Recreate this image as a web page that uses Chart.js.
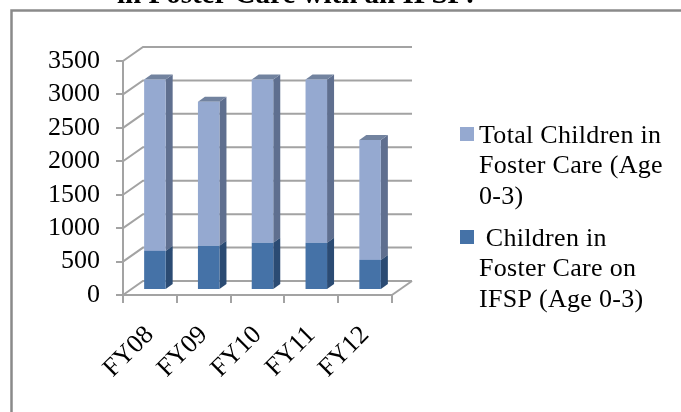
<!DOCTYPE html>
<html><head><meta charset="utf-8">
<style>html,body{margin:0;padding:0;background:#fff;overflow:hidden}#w{width:681px;height:412px;position:relative}</style>
<script src="https://cdn.jsdelivr.net/npm/chart.js@4"></script></head>
<body><div id="w"><canvas id="c" width="681" height="412"></canvas></div>
<script>
const categories=['FY08','FY09','FY10','FY11','FY12'];
const ifspValues=[585,660,705,705,450];
const totalRemainder=[2565,2155,2445,2445,1795];
const yTicks=[0,500,1000,1500,2000,2500,3000,3500];
const legendTotal=['Total Children in','Foster Care (Age','0-3)'];
const legendIfsp=[' Children in','Foster Care on','IFSP (Age 0-3)'];
const titleText='in Foster Care with an IFSP:';
const SERIF='"Liberation Serif"';
const GRID='#a3a3a3';
const D={x:20,y:-14}, BAR={x:5,y:-5}, SIDE={x:7,y:-5};
const sideCols=['#2b4b73','#5f6f8f'], topCols=['#3a6090','#72839f'];
const frame={id:'frame',beforeDraw(ch){const c=ch.ctx;c.save();
 c.strokeStyle='#8a8a8a';c.lineWidth=2.5;c.beginPath();c.moveTo(681,10.5);c.lineTo(11.5,10.5);c.lineTo(11.5,412);c.stroke();
 c.fillStyle='#000';c.font='bold 29px '+SERIF;c.textAlign='left';c.textBaseline='alphabetic';c.fillText(titleText,117,3);
 c.restore();}};
const walls={id:'walls',beforeDatasetsDraw(ch){const c=ch.ctx,y=ch.scales.y,a=ch.chartArea;c.save();
 c.strokeStyle=GRID;c.lineWidth=2;
 yTicks.forEach(v=>{const p=y.getPixelForValue(v);c.beginPath();c.moveTo(a.left,p);c.lineTo(a.left+D.x,p+D.y);c.lineTo(a.right+D.x,p+D.y);c.stroke();});
 c.beginPath();const b=y.getPixelForValue(0);c.moveTo(a.right,b);c.lineTo(a.right+D.x,b+D.y);c.stroke();
 c.restore();}};
const bars3d={id:'bars3d',
 beforeDatasetDraw(ch,args){const c=ch.ctx;c.save();c.translate(BAR.x,BAR.y);
  args.meta.data.forEach(el=>{const p=el.getProps(['x','y','base','width'],true);const r=p.x+p.width/2,l=p.x-p.width/2;
   c.fillStyle=sideCols[args.index];c.beginPath();c.moveTo(r,p.y);c.lineTo(r+SIDE.x,p.y+SIDE.y);c.lineTo(r+SIDE.x,p.base+SIDE.y);c.lineTo(r,p.base);c.closePath();c.fill();
   if(args.index===1){c.fillStyle=topCols[1];c.beginPath();c.moveTo(l,p.y);c.lineTo(l+SIDE.x,p.y+SIDE.y);c.lineTo(r+SIDE.x,p.y+SIDE.y);c.lineTo(r,p.y);c.closePath();c.fill();}
  });},
 afterDatasetDraw(ch){ch.ctx.restore();}};
const legendBox={id:'legendBox',afterDraw(ch){const c=ch.ctx;c.save();c.textAlign='left';c.textBaseline='alphabetic';
 c.font='26px '+SERIF;c.letterSpacing='0.3px';
 const items=[{t:legendTotal,col:ch.data.datasets[1].backgroundColor,box:127,base:143},{t:legendIfsp,col:ch.data.datasets[0].backgroundColor,box:230,base:246}];
 items.forEach(it=>{c.fillStyle=it.col;c.fillRect(460,it.box,14,14);c.fillStyle='#000';
  it.t.forEach((s,i)=>{c.fillText(s,479,it.base+i*30.3);});});
 c.restore();}};
new Chart(document.getElementById('c'),{type:'bar',
 data:{labels:categories,datasets:[
  {label:'Children in Foster Care on IFSP (Age 0-3)',data:ifspValues,backgroundColor:'#4572a7',barPercentage:.4,categoryPercentage:1},
  {label:'Total Children in Foster Care (Age 0-3)',data:totalRemainder,backgroundColor:'#95a9d0',barPercentage:.4,categoryPercentage:1}]},
 plugins:[frame,walls,bars3d,legendBox],
 options:{responsive:false,animation:false,
  layout:{padding:{top:61,right:289,left:0,bottom:0}},
  plugins:{legend:{display:false},tooltip:{enabled:false}},
  scales:{
   x:{stacked:true,afterFit(s){s.height=117;},
    grid:{drawOnChartArea:false,color:GRID,lineWidth:2,tickLength:8,offset:true},border:{color:GRID,width:2},
    ticks:{color:'#000',font:{family:SERIF,size:26},maxRotation:45,minRotation:45,padding:17,autoSkip:false}},
   y:{stacked:true,min:0,max:3500,afterFit(s){s.width=123;},
    afterBuildTicks(s){s.ticks=yTicks.map(v=>({value:v}));},
    grid:{drawOnChartArea:false,color:GRID,lineWidth:2,tickLength:7},border:{color:GRID,width:2},
    ticks:{color:'#000',font:{family:SERIF,size:26},padding:16,autoSkip:false,callback:v=>String(v)}}
  }}});
</script></body></html>
